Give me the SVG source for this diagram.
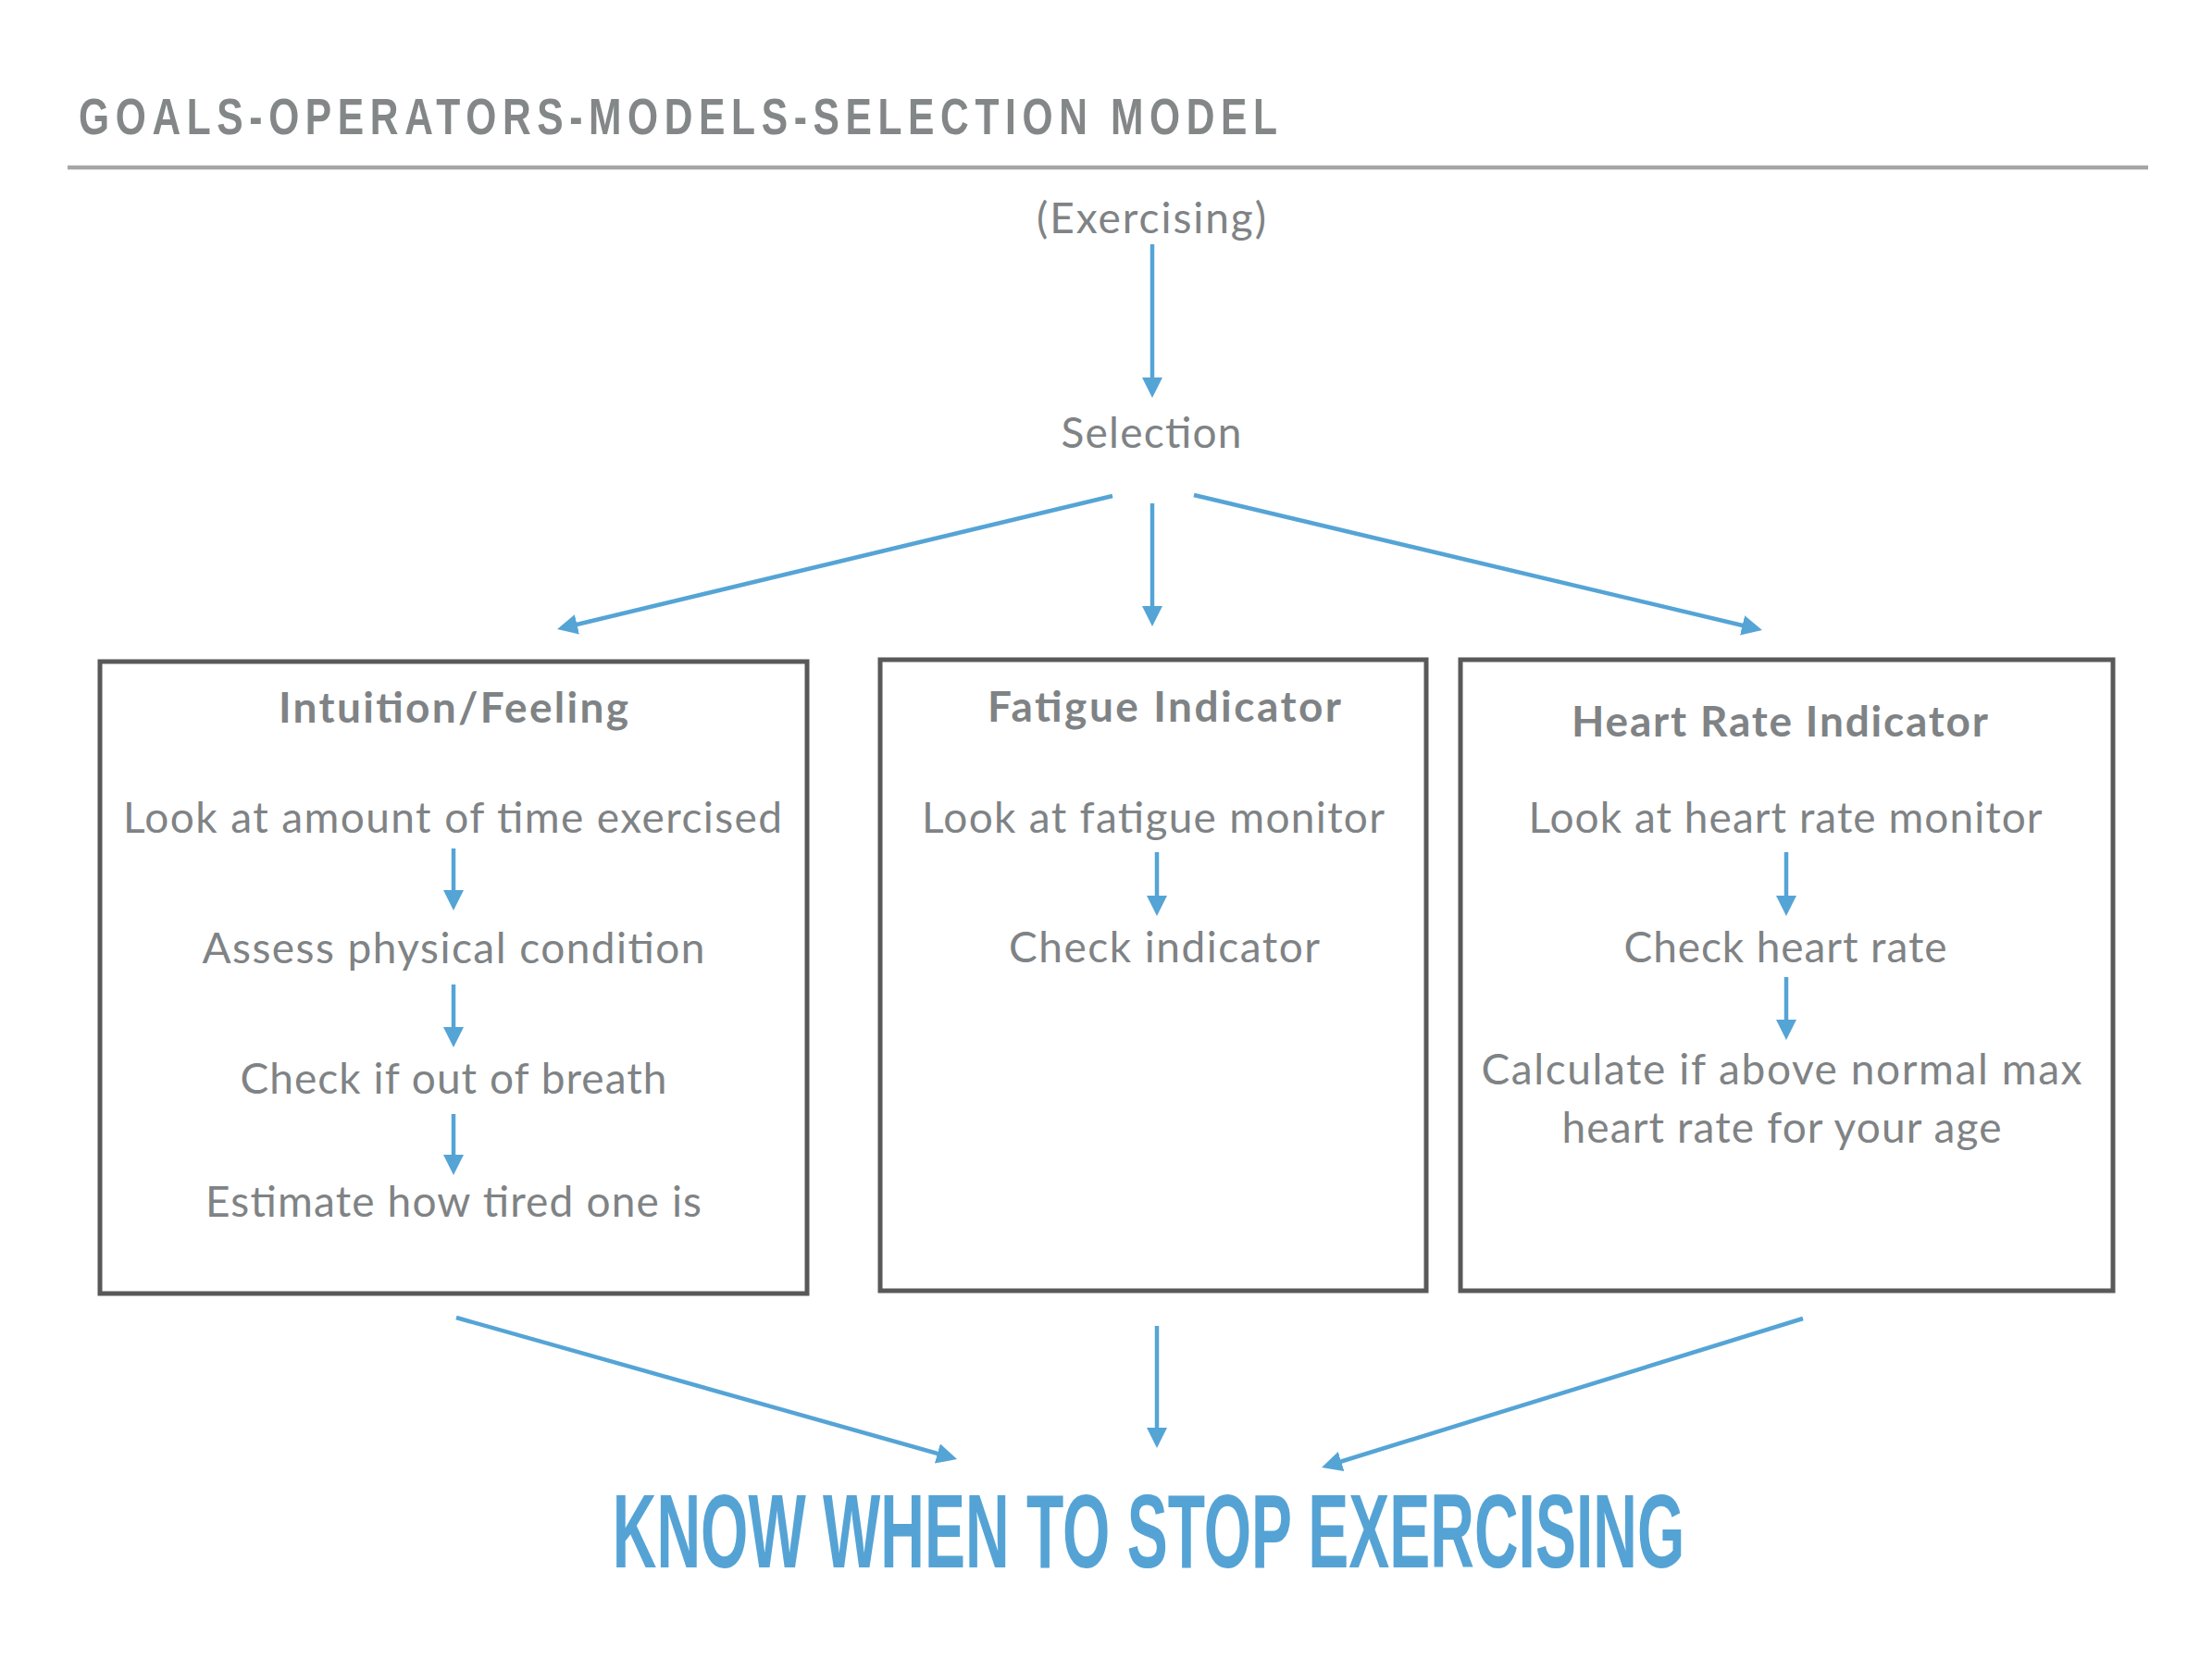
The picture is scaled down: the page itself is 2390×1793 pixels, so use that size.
<svg xmlns="http://www.w3.org/2000/svg" width="2390" height="1793" viewBox="0 0 2390 1793">
<style>
.t{font-family:Lato,"Open Sans","Liberation Sans",sans-serif;font-size:46px;fill:#7f8385;text-anchor:middle}
.b{font-weight:bold}
.box{fill:#fff;stroke:#595959;stroke-width:5}
.c{stroke:#55a4d6;stroke-width:4.5;fill:none}
</style>
<defs>
<marker id="ah" markerUnits="userSpaceOnUse" markerWidth="22" markerHeight="22" refX="10" refY="11" orient="auto">
<path d="M0,0 L22,11 L0,22 z" fill="#55a4d6"/>
</marker>
</defs>
<rect width="2390" height="1793" fill="#fff"/>
<g id="header">
<text transform="translate(85,145) scale(0.76,1)" x="0" y="0" font-family="'Liberation Sans',Arial,sans-serif" font-weight="bold" font-size="56" fill="#838788" textLength="1704" lengthAdjust="spacing">GOALS-OPERATORS-MODELS-SELECTION MODEL</text>
<line x1="73" y1="181" x2="2321" y2="181" stroke="#a6a6a6" stroke-width="4.5"/>
</g>
<g id="exercising"><text class="t" x="1244" y="252" textLength="248" lengthAdjust="spacing">(Exercising)</text></g>
<g id="selection"><text class="t" x="1244" y="484" textLength="195" lengthAdjust="spacing">Selection</text></g>
<g id="intuition">
<rect class="box" x="108" y="715" width="764" height="683"/>
<text class="t b" x="490" y="781" textLength="378" lengthAdjust="spacing">Intuition/Feeling</text>
<text class="t" x="489" y="900" textLength="712" lengthAdjust="spacing">Look at amount of time exercised</text>
<text class="t" x="490" y="1041" textLength="543" lengthAdjust="spacing">Assess physical condition</text>
<text class="t" x="490" y="1182" textLength="461" lengthAdjust="spacing">Check if out of breath</text>
<text class="t" x="490" y="1315" textLength="536" lengthAdjust="spacing">Estimate how tired one is</text>
</g>
<g id="fatigue">
<rect class="box" x="951" y="713" width="590" height="682"/>
<text class="t b" x="1258" y="780" textLength="382" lengthAdjust="spacing">Fatigue Indicator</text>
<text class="t" x="1246" y="900" textLength="500" lengthAdjust="spacing">Look at fatigue monitor</text>
<text class="t" x="1258" y="1040" textLength="336" lengthAdjust="spacing">Check indicator</text>
</g>
<g id="heartrate">
<rect class="box" x="1578" y="713" width="705" height="682"/>
<text class="t b" x="1923" y="796" textLength="450" lengthAdjust="spacing">Heart Rate Indicator</text>
<text class="t" x="1929" y="900" textLength="555" lengthAdjust="spacing">Look at heart rate monitor</text>
<text class="t" x="1929" y="1040" textLength="349" lengthAdjust="spacing">Check heart rate</text>
<text class="t" x="1925" y="1172" textLength="649" lengthAdjust="spacing">Calculate if above normal max</text>
<text class="t" x="1925" y="1235" textLength="475" lengthAdjust="spacing">heart rate for your age</text>
</g>
<g id="result">
<text transform="translate(1241,1694) scale(0.584,1)" x="0" y="0" font-family="'Liberation Sans',Arial,sans-serif" font-weight="bold" font-size="113" fill="#55a3d5" text-anchor="middle">KNOW WHEN TO STOP EXERCISING</text>
</g>
<g id="connectors">
<line class="c" x1="1245" y1="264" x2="1245" y2="418" marker-end="url(#ah)"/>
<line class="c" x1="1245" y1="544" x2="1245" y2="665" marker-end="url(#ah)"/>
<line class="c" x1="1202" y1="536" x2="613.7" y2="677.2" marker-end="url(#ah)"/>
<line class="c" x1="1290" y1="535" x2="1892.3" y2="678.2" marker-end="url(#ah)"/>
<line class="c" x1="490" y1="917" x2="490" y2="972" marker-end="url(#ah)"/>
<line class="c" x1="490" y1="1064" x2="490" y2="1120" marker-end="url(#ah)"/>
<line class="c" x1="490" y1="1204" x2="490" y2="1258" marker-end="url(#ah)"/>
<line class="c" x1="1250" y1="921" x2="1250" y2="978" marker-end="url(#ah)"/>
<line class="c" x1="1930" y1="921" x2="1930" y2="978" marker-end="url(#ah)"/>
<line class="c" x1="1930" y1="1056" x2="1930" y2="1112" marker-end="url(#ah)"/>
<line class="c" x1="493" y1="1424" x2="1022.5" y2="1573.7" marker-end="url(#ah)"/>
<line class="c" x1="1250" y1="1433" x2="1250" y2="1553" marker-end="url(#ah)"/>
<line class="c" x1="1948" y1="1425" x2="1439.5" y2="1582.5" marker-end="url(#ah)"/>
</g>
</svg>
